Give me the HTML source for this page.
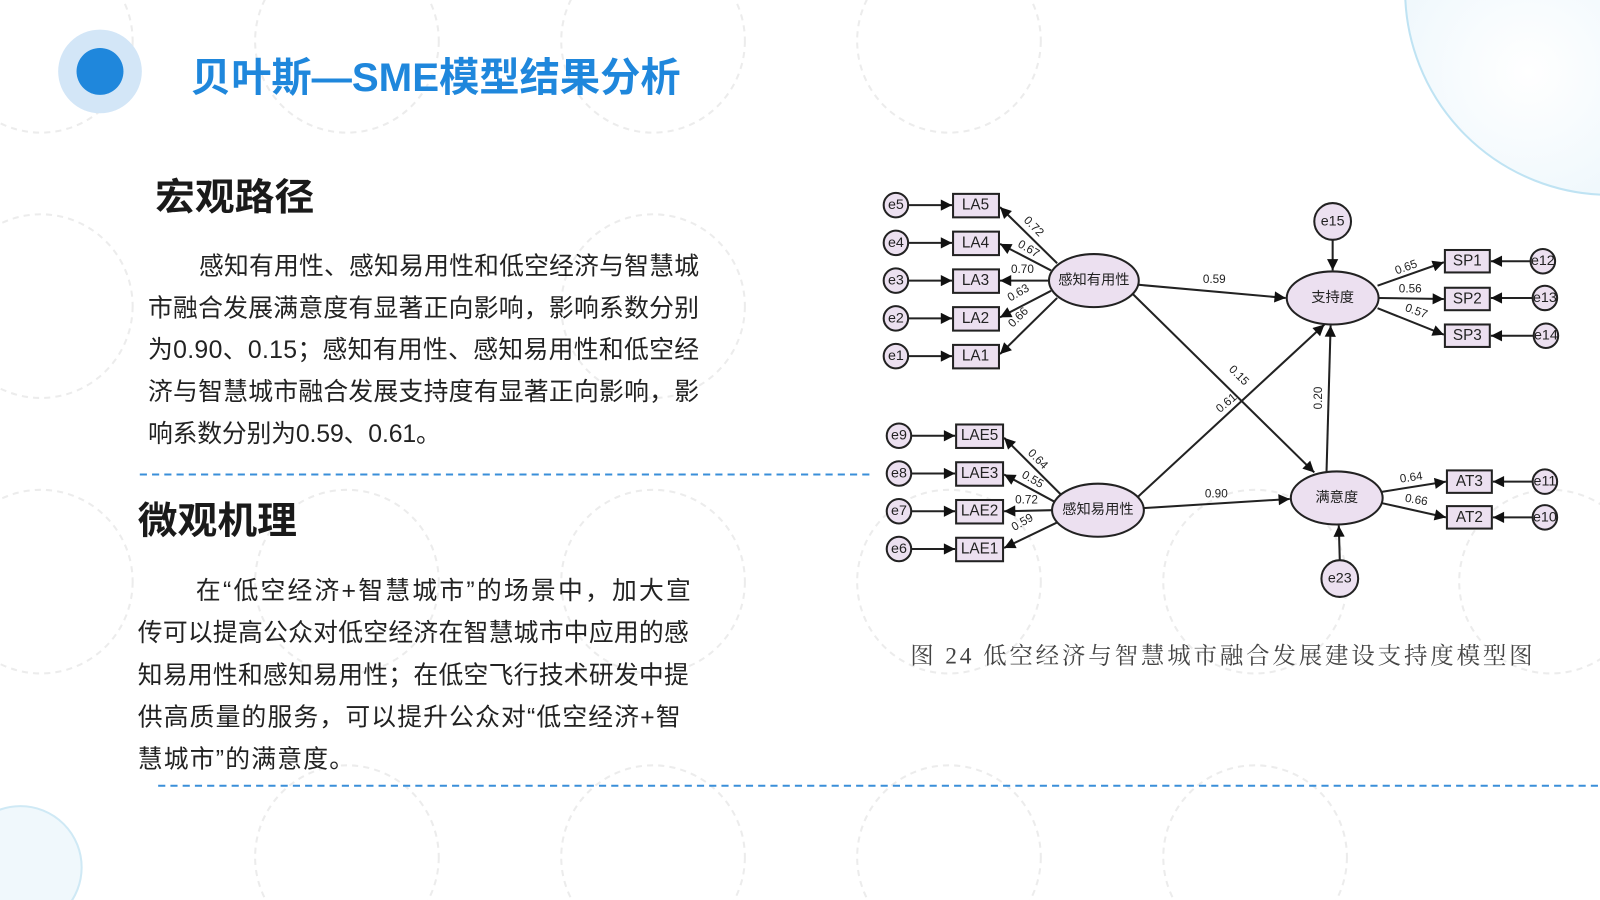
<!DOCTYPE html>
<html><head><meta charset="utf-8"><style>
html,body{margin:0;padding:0;background:#fff;width:1600px;height:900px;overflow:hidden;}
svg{display:block;}
</style></head><body>
<svg width="1600" height="900" viewBox="0 0 1568 882" xmlns="http://www.w3.org/2000/svg" font-family="'Liberation Sans','Noto Sans CJK SC',sans-serif">
<defs>
<radialGradient id="rg" cx="0.3" cy="0.7" r="0.9">
<stop offset="0" stop-color="#ffffff"/><stop offset="1" stop-color="#d6ecf8"/>
</radialGradient>
<marker id="arb" viewBox="0 0 10 10" refX="10" refY="5" markerWidth="13" markerHeight="11" markerUnits="userSpaceOnUse" orient="auto">
<path d="M0,0 L10,5 L0,10 z" fill="#111"/></marker>
</defs>
<rect width="1568" height="882" fill="#fff"/>
<circle cx="1578" cy="-10" r="201" fill="url(#rg)" stroke="#bfe3f3" stroke-width="2"/>
<circle cx="20" cy="850" r="60" fill="#f0f8fc" stroke="#cfe9f5" stroke-width="2"/>
<g fill="none" stroke="#ececec" stroke-width="2" stroke-dasharray="6 5">
<circle cx="40" cy="40" r="90"/><circle cx="340" cy="40" r="90"/><circle cx="640" cy="40" r="90"/><circle cx="930" cy="40" r="90"/>
<circle cx="40" cy="300" r="90"/><circle cx="640" cy="300" r="90"/><circle cx="40" cy="570" r="90"/><circle cx="340" cy="570" r="90"/><circle cx="640" cy="570" r="90"/><circle cx="930" cy="570" r="90"/><circle cx="1230" cy="570" r="90"/><circle cx="1520" cy="570" r="90"/>
<circle cx="340" cy="840" r="90"/><circle cx="640" cy="840" r="90"/><circle cx="930" cy="840" r="90"/><circle cx="1230" cy="840" r="90"/>
</g>
<circle cx="98" cy="70" r="41" fill="#d3e6f7"/>
<circle cx="98" cy="70" r="23" fill="#1f87dc"/>
<text x="187" y="89" font-size="39" font-weight="bold" fill="#1f87dc" textLength="480" lengthAdjust="spacingAndGlyphs">贝叶斯—SME模型结果分析</text>
<text x="152" y="206" font-size="37" font-weight="bold" fill="#1a1a1a" textLength="156" lengthAdjust="spacingAndGlyphs">宏观路径</text>
<g font-size="24.3" fill="#222">
<text x="195" y="269" textLength="490">感知有用性、感知易用性和低空经济与智慧城</text>
<text x="145" y="310" textLength="540">市融合发展满意度有显著正向影响，影响系数分别</text>
<text x="145" y="351" textLength="540">为0.90、0.15；感知有用性、感知易用性和低空经</text>
<text x="145" y="392" textLength="540">济与智慧城市融合发展支持度有显著正向影响，影</text>
<text x="145" y="433" textLength="287">响系数分别为0.59、0.61。</text>
</g>
<line x1="137" y1="465" x2="852" y2="465" stroke="#3a8fd9" stroke-width="2" stroke-dasharray="7 5"/>
<text x="135" y="523" font-size="37" font-weight="bold" fill="#1a1a1a" textLength="156" lengthAdjust="spacingAndGlyphs">微观机理</text>
<g font-size="24.3" fill="#222">
<text x="192" y="587" textLength="485">在“低空经济+智慧城市”的场景中，加大宣</text>
<text x="135" y="628" textLength="540">传可以提高公众对低空经济在智慧城市中应用的感</text>
<text x="135" y="670" textLength="540">知易用性和感知易用性；在低空飞行技术研发中提</text>
<text x="135" y="711" textLength="532">供高质量的服务，可以提升公众对“低空经济+智</text>
<text x="135" y="752" textLength="212">慧城市”的满意度。</text>
</g>
<line x1="155" y1="770" x2="1568" y2="770" stroke="#3a8fd9" stroke-width="2" stroke-dasharray="7 5"/>

<g stroke="#222" stroke-width="2" fill="#ece0f0">
<circle cx="878" cy="201" r="12"/><circle cx="878" cy="238" r="12"/><circle cx="878" cy="275" r="12"/><circle cx="878" cy="312" r="12"/><circle cx="878" cy="349" r="12"/>
<rect x="934" y="190" width="45" height="23"/><rect x="934" y="227" width="45" height="23"/><rect x="934" y="264" width="45" height="23"/><rect x="934" y="301" width="45" height="23"/><rect x="934" y="338" width="45" height="23"/>
<ellipse cx="1072" cy="275" rx="44" ry="26"/>
<circle cx="881" cy="427" r="12"/><circle cx="881" cy="464" r="12"/><circle cx="881" cy="501" r="12"/><circle cx="881" cy="538" r="12"/>
<rect x="937" y="416" width="46" height="23"/><rect x="937" y="453" width="46" height="23"/><rect x="937" y="490" width="46" height="23"/><rect x="937" y="527" width="46" height="23"/>
<ellipse cx="1076" cy="500" rx="45" ry="26"/>
<ellipse cx="1306" cy="292" rx="45" ry="26"/>
<circle cx="1306" cy="217" r="18"/>
<ellipse cx="1310" cy="488" rx="45" ry="26"/>
<circle cx="1313" cy="567" r="18"/>
<rect x="1416" y="245" width="44" height="22"/><rect x="1416" y="282" width="44" height="22"/><rect x="1416" y="318" width="44" height="22"/>
<circle cx="1512" cy="256" r="12"/><circle cx="1514" cy="292" r="12"/><circle cx="1515" cy="329" r="12"/>
<rect x="1418" y="461" width="44" height="22"/><rect x="1418" y="496" width="44" height="22"/>
<circle cx="1514" cy="472" r="12"/><circle cx="1514" cy="507" r="12"/>
</g>
<g stroke="#222" stroke-width="2" fill="none">
<line x1="890" y1="201" x2="933" y2="201" marker-end="url(#arb)"/>
<line x1="890" y1="238" x2="933" y2="238" marker-end="url(#arb)"/>
<line x1="890" y1="275" x2="933" y2="275" marker-end="url(#arb)"/>
<line x1="890" y1="312" x2="933" y2="312" marker-end="url(#arb)"/>
<line x1="890" y1="349" x2="933" y2="349" marker-end="url(#arb)"/>
<line x1="1036" y1="258" x2="980" y2="203" marker-end="url(#arb)"/>
<line x1="1030" y1="265" x2="980" y2="239" marker-end="url(#arb)"/>
<line x1="1028" y1="275" x2="980" y2="275" marker-end="url(#arb)"/>
<line x1="1030" y1="285" x2="980" y2="311" marker-end="url(#arb)"/>
<line x1="1036" y1="292" x2="980" y2="347" marker-end="url(#arb)"/>
<line x1="893" y1="427" x2="936" y2="427" marker-end="url(#arb)"/>
<line x1="893" y1="464" x2="936" y2="464" marker-end="url(#arb)"/>
<line x1="893" y1="501" x2="936" y2="501" marker-end="url(#arb)"/>
<line x1="893" y1="538" x2="936" y2="538" marker-end="url(#arb)"/>
<line x1="1040" y1="485" x2="984" y2="429" marker-end="url(#arb)"/>
<line x1="1034" y1="492" x2="984" y2="465" marker-end="url(#arb)"/>
<line x1="1031" y1="500" x2="984" y2="501" marker-end="url(#arb)"/>
<line x1="1036" y1="512" x2="984" y2="537" marker-end="url(#arb)"/>
<line x1="1115" y1="279" x2="1260" y2="292" marker-end="url(#arb)"/>
<line x1="1110" y1="288" x2="1288" y2="463" marker-end="url(#arb)"/>
<line x1="1115" y1="487" x2="1298" y2="318" marker-end="url(#arb)"/>
<line x1="1120" y1="498" x2="1264" y2="489" marker-end="url(#arb)"/>
<line x1="1300" y1="462" x2="1304" y2="319" marker-end="url(#arb)"/>
<line x1="1306" y1="235" x2="1306" y2="265" marker-end="url(#arb)"/>
<line x1="1313" y1="549" x2="1312" y2="515" marker-end="url(#arb)"/>
<line x1="1350" y1="280" x2="1415" y2="257" marker-end="url(#arb)"/>
<line x1="1351" y1="292" x2="1415" y2="293" marker-end="url(#arb)"/>
<line x1="1350" y1="302" x2="1415" y2="328" marker-end="url(#arb)"/>
<line x1="1500" y1="256" x2="1461" y2="256" marker-end="url(#arb)"/>
<line x1="1502" y1="292" x2="1461" y2="292" marker-end="url(#arb)"/>
<line x1="1503" y1="329" x2="1461" y2="329" marker-end="url(#arb)"/>
<line x1="1354" y1="482" x2="1417" y2="472" marker-end="url(#arb)"/>
<line x1="1354" y1="493" x2="1417" y2="507" marker-end="url(#arb)"/>
<line x1="1502" y1="472" x2="1463" y2="472" marker-end="url(#arb)"/>
<line x1="1502" y1="507" x2="1463" y2="507" marker-end="url(#arb)"/>
</g>
<g font-size="14" fill="#222" text-anchor="middle" dominant-baseline="central">
<text x="878" y="201">e5</text><text x="878" y="238">e4</text><text x="878" y="275">e3</text><text x="878" y="312">e2</text><text x="878" y="349">e1</text>
<text x="956" y="201" font-size="15">LA5</text><text x="956" y="238" font-size="15">LA4</text><text x="956" y="275" font-size="15">LA3</text><text x="956" y="312" font-size="15">LA2</text><text x="956" y="349" font-size="15">LA1</text>
<text x="1072" y="275" font-size="14">感知有用性</text>
<text x="881" y="427">e9</text><text x="881" y="464">e8</text><text x="881" y="501">e7</text><text x="881" y="538">e6</text>
<text x="960" y="427" font-size="15">LAE5</text><text x="960" y="464" font-size="15">LAE3</text><text x="960" y="501" font-size="15">LAE2</text><text x="960" y="538" font-size="15">LAE1</text>
<text x="1076" y="500" font-size="14">感知易用性</text>
<text x="1306" y="292" font-size="14">支持度</text>
<text x="1306" y="217">e15</text>
<text x="1310" y="488" font-size="14">满意度</text>
<text x="1313" y="567">e23</text>
<text x="1438" y="256" font-size="15">SP1</text><text x="1438" y="293" font-size="15">SP2</text><text x="1438" y="329" font-size="15">SP3</text>
<text x="1512" y="256">e12</text><text x="1514" y="292">e13</text><text x="1515" y="329">e14</text>
<text x="1440" y="472" font-size="15">AT3</text><text x="1440" y="507" font-size="15">AT2</text>
<text x="1514" y="472">e11</text><text x="1514" y="507">e10</text>
<g font-size="11.5">
<text x="1013" y="222" transform="rotate(45 1013 222)">0.72</text>
<text x="1008" y="244" transform="rotate(30 1008 244)">0.67</text>
<text x="1002" y="264">0.70</text>
<text x="998" y="287" transform="rotate(-30 998 287)">0.63</text>
<text x="998" y="311" transform="rotate(-45 998 311)">0.66</text>
<text x="1017" y="450" transform="rotate(45 1017 450)">0.64</text>
<text x="1012" y="470" transform="rotate(30 1012 470)">0.55</text>
<text x="1006" y="490">0.72</text>
<text x="1002" y="512" transform="rotate(-30 1002 512)">0.59</text>
<text x="1190" y="274">0.59</text>
<text x="1214" y="368" transform="rotate(45 1214 368)">0.15</text>
<text x="1202" y="395" transform="rotate(-40 1202 395)">0.61</text>
<text x="1192" y="484">0.90</text>
<text x="1292" y="390" transform="rotate(-90 1292 390)">0.20</text>
<text x="1378" y="262" transform="rotate(-20 1378 262)">0.65</text>
<text x="1382" y="283">0.56</text>
<text x="1388" y="305" transform="rotate(20 1388 305)">0.57</text>
<text x="1383" y="468" transform="rotate(-8 1383 468)">0.64</text>
<text x="1388" y="490" transform="rotate(10 1388 490)">0.66</text>
</g>
</g>
<text x="892" y="650" font-size="23" fill="#444" font-family="'Liberation Serif','Noto Serif CJK SC',serif" textLength="610">图 24  低空经济与智慧城市融合发展建设支持度模型图</text>
</svg>
</body></html>
